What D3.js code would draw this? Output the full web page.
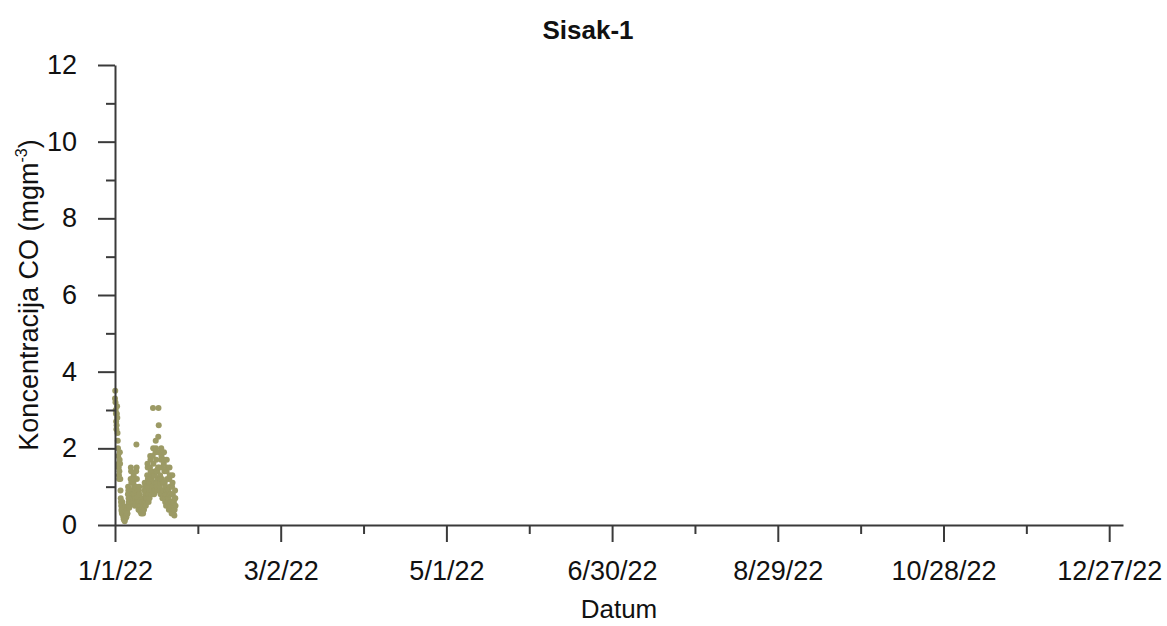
<!DOCTYPE html>
<html>
<head>
<meta charset="utf-8">
<title>Sisak-1</title>
<script src="https://cdn.jsdelivr.net/npm/d3@7"></script>
<style>
  html, body { margin: 0; padding: 0; background: #ffffff; }
  svg { display: block; }
  text { font-family: "Liberation Sans", Arial, sans-serif; fill: #111; }
</style>
</head>
<body>
<svg id="chart" width="1167" height="626"></svg>
<script>
// Hourly-averaged CO readings, sampled every 2 hours from 1 Jan 2022 00:00 (one row per day)
const seriesStart = "2022-01-01T00:00";
const stepHours = 2;
const coValues = [
  3.3, 3.5, 3.2, 3.0, 2.9, 2.7, 2.5, 2.6, 2.9, 3.1, 2.8, 2.4,
  2.2, 2.0, 1.8, 1.6, 1.5, 1.3, 1.2, 1.4, 1.7, 1.9, 1.6, 1.2,
  0.9, 0.7, 0.6, 0.5, 0.4, 0.35, 0.3, 0.4, 0.6, 0.5, 0.4, 0.3,
  0.25, 0.2, 0.15, 0.15, 0.2, 0.15, 0.1, 0.15, 0.3, 0.45, 0.35, 0.25,
  0.2, 0.2, 0.25, 0.35, 0.4, 0.3, 0.3, 0.5, 0.8, 1.0, 0.9, 0.7,
  0.6, 0.5, 0.45, 0.6, 0.8, 0.7, 0.6, 0.9, 1.2, 1.5, 1.4, 1.1,
  0.9, 0.7, 0.6, 0.7, 0.9, 0.8, 0.6, 0.8, 1.1, 1.3, 1.2, 1.0,
  0.8, 0.6, 0.5, 0.7, 1.0, 0.9, 0.7, 1.0, 1.4, 2.1, 1.5, 1.2,
  0.9, 0.7, 0.6, 0.5, 0.6, 0.5, 0.4, 0.6, 0.9, 1.0, 0.8, 0.6,
  0.5, 0.4, 0.35, 0.4, 0.5, 0.4, 0.3, 0.4, 0.6, 0.7, 0.6, 0.5,
  0.4, 0.35, 0.3, 0.4, 0.6, 0.5, 0.4, 0.6, 0.9, 1.1, 1.0, 0.8,
  0.7, 0.6, 0.5, 0.7, 1.0, 0.9, 0.7, 1.0, 1.3, 1.6, 1.5, 1.2,
  1.0, 0.8, 0.6, 0.8, 1.1, 0.9, 0.7, 1.1, 1.5, 1.8, 1.7, 1.4,
  1.2, 1.0, 0.8, 0.9, 1.2, 1.0, 0.8, 1.3, 1.8, 3.05, 2.0, 1.6,
  1.3, 1.0, 0.8, 0.9, 1.3, 1.1, 0.9, 1.4, 1.9, 2.2, 2.0, 1.7,
  1.4, 1.1, 0.9, 1.0, 1.4, 1.2, 0.9, 1.5, 2.3, 3.05, 2.6, 1.9,
  1.5, 1.2, 0.9, 1.0, 1.3, 1.1, 0.8, 1.2, 1.7, 2.0, 1.8, 1.5,
  1.2, 0.9, 0.7, 0.8, 1.1, 0.9, 0.7, 1.1, 1.6, 1.9, 1.7, 1.4,
  1.1, 0.8, 0.6, 0.7, 1.0, 0.8, 0.5, 0.9, 1.4, 1.7, 1.5, 1.2,
  0.9, 0.7, 0.5, 0.6, 0.9, 0.7, 0.4, 0.8, 1.2, 1.5, 1.3, 1.0,
  0.8, 0.6, 0.4, 0.5, 0.8, 0.6, 0.3, 0.6, 1.0, 1.3, 1.1, 0.8,
  0.6, 0.5, 0.3, 0.4, 0.6, 0.5, 0.25, 0.4, 0.7, 0.9, 0.7, 0.5
];

// Axis settings
const xDomain = ["1/1/22", "1/1/23"];
const xTickLabels = ["1/1/22", "3/2/22", "5/1/22", "6/30/22", "8/29/22", "10/28/22", "12/27/22"];
const xMinorTickLabels = ["1/31/22", "4/1/22", "5/31/22", "7/30/22", "9/28/22", "11/27/22"];
const yDomain = [0, 12];
const yTicks = [0, 2, 4, 6, 8, 10, 12];
const yMinorTicks = [1, 3, 5, 7, 9, 11];

const chartTitle = "Sisak-1";
const xTitle = "Datum";

const svg = d3.select("#chart");
const margin = { left: 115, right: 44, top: 65, bottom: 101 };
const W = 1167, H = 626;

const parseLabel = d3.utcParse("%m/%d/%y");
const startTime = d3.utcParse("%Y-%m-%dT%H:%M")(seriesStart);

const points = coValues.map((v, i) => ({
  t: d3.utcHour.offset(startTime, i * stepHours),
  v: v
}));

const x = d3.scaleUtc()
  .domain(xDomain.map(parseLabel))
  .range([margin.left, W - margin.right]);

const y = d3.scaleLinear()
  .domain(yDomain)
  .range([H - margin.bottom, margin.top]);

const axisColor = "#3a3a3a";
const fontSize = 27;

// Data points
svg.append("g")
  .selectAll("circle")
  .data(points)
  .join("circle")
  .attr("cx", d => x(d.t))
  .attr("cy", d => y(d.v))
  .attr("r", 3)
  .attr("fill", "#9c9a65");

// X axis: major ticks with labels, minor ticks without
const fmt = d3.utcFormat("%-m/%-d/%y");
const xAxis = svg.append("g")
  .attr("transform", `translate(0,${y(0)})`)
  .call(d3.axisBottom(x)
    .tickValues(xTickLabels.map(parseLabel))
    .tickFormat(fmt)
    .tickSize(17)
    .tickPadding(19)
    .tickSizeOuter(0));
xAxis.select(".domain").attr("stroke", axisColor).attr("stroke-width", 2);
xAxis.selectAll(".tick line").attr("stroke", axisColor).attr("stroke-width", 2);
xAxis.selectAll(".tick text")
  .attr("font-family", '"Liberation Sans", Arial, sans-serif')
  .attr("font-size", fontSize)
  .attr("fill", "#111");

const xMinor = svg.append("g")
  .attr("transform", `translate(0,${y(0)})`)
  .call(d3.axisBottom(x)
    .tickValues(xMinorTickLabels.map(parseLabel))
    .tickFormat("")
    .tickSize(9)
    .tickSizeOuter(0));
xMinor.select(".domain").remove();
xMinor.selectAll(".tick line").attr("stroke", axisColor).attr("stroke-width", 2);

// Y axis
const yAxis = svg.append("g")
  .attr("transform", `translate(${x.range()[0]},0)`)
  .call(d3.axisLeft(y)
    .tickValues(yTicks)
    .tickFormat(d3.format("d"))
    .tickSize(17)
    .tickPadding(21)
    .tickSizeOuter(0));
yAxis.select(".domain").attr("stroke", axisColor).attr("stroke-width", 2);
yAxis.selectAll(".tick line").attr("stroke", axisColor).attr("stroke-width", 2);
yAxis.selectAll(".tick text")
  .attr("font-family", '"Liberation Sans", Arial, sans-serif')
  .attr("font-size", fontSize)
  .attr("fill", "#111");

const yMinor = svg.append("g")
  .attr("transform", `translate(${x.range()[0]},0)`)
  .call(d3.axisLeft(y)
    .tickValues(yMinorTicks)
    .tickFormat("")
    .tickSize(9)
    .tickSizeOuter(0));
yMinor.select(".domain").remove();
yMinor.selectAll(".tick line").attr("stroke", axisColor).attr("stroke-width", 2);

// Title
svg.append("text")
  .attr("x", 588)
  .attr("y", 39)
  .attr("text-anchor", "middle")
  .attr("font-size", 26)
  .attr("font-weight", "bold")
  .text(chartTitle);

// X axis title
svg.append("text")
  .attr("x", (x.range()[0] + x.range()[1]) / 2)
  .attr("y", 618)
  .attr("text-anchor", "middle")
  .attr("font-size", 26)
  .text(xTitle);

// Y axis title with superscript unit exponent
const yTitle = svg.append("text")
  .attr("transform", `translate(38,${(y(0) + y(12)) / 2}) rotate(-90)`)
  .attr("text-anchor", "middle")
  .attr("font-size", fontSize);
yTitle.append("tspan").text("Koncentracija CO (mgm");
yTitle.append("tspan").attr("font-size", 16).attr("dy", -11).text("-3");
yTitle.append("tspan").attr("dy", 11).text(")");
</script>
</body>
</html>
